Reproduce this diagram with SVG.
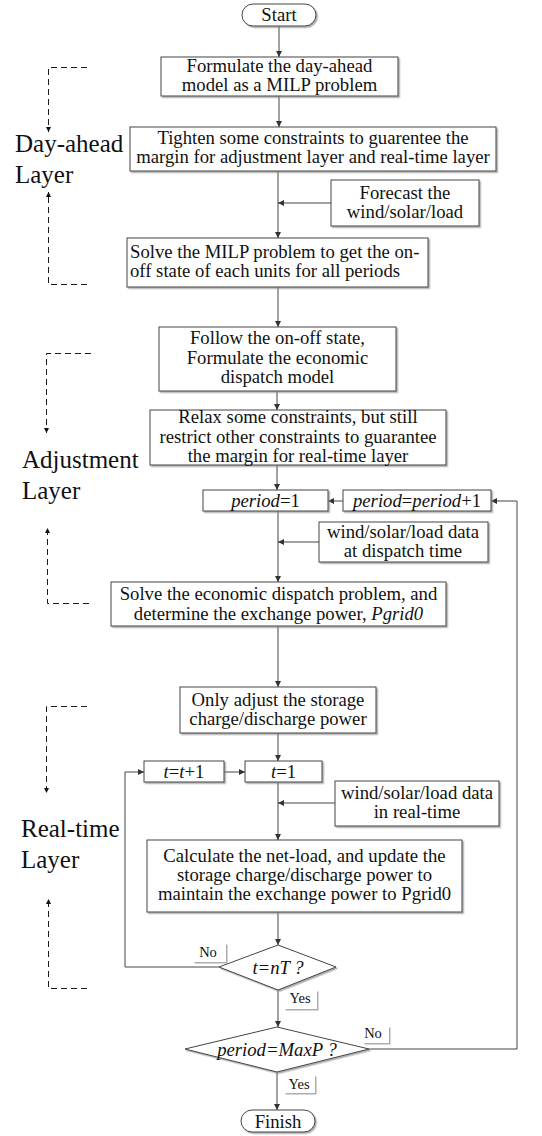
<svg xmlns="http://www.w3.org/2000/svg" width="542" height="1136" viewBox="0 0 542 1136">
  <defs>
    <filter id="shadow" x="-5%" y="-10%" width="115%" height="140%">
      <feDropShadow dx="1.5" dy="1.5" stdDeviation="0.7" flood-color="#8a8a8a" flood-opacity="0.7"/>
    </filter>
    <marker id="arr" markerUnits="userSpaceOnUse" markerWidth="8" markerHeight="8" refX="6" refY="3" orient="auto">
      <path d="M0,0 L6,3 L0,6 z" fill="#333"/>
    </marker>
    <marker id="arrDash" markerUnits="userSpaceOnUse" markerWidth="8" markerHeight="8" refX="5" refY="2.5" orient="auto">
      <path d="M0,0 L5,2.5 L0,5 z" fill="#111"/>
    </marker>
    <style>
      .box { fill: #fff; stroke: #444; stroke-width: 1; filter: url(#shadow); }
      .tag { fill: #fff; filter: url(#shadow); }
      .t { font-family: "Liberation Serif", "Times New Roman", serif; font-size: 18.7px; fill: #111; text-anchor: middle; }
      .ts { font-family: "Liberation Serif", "Times New Roman", serif; font-size: 14.5px; fill: #111; text-anchor: middle; }
      .layer { font-family: "Liberation Serif", "Times New Roman", serif; font-size: 25px; fill: #111; }
      .i { font-style: italic; }
      .c { fill: none; stroke: #444; stroke-width: 1; marker-end: url(#arr); }
      .d { fill: none; stroke: #1a1a1a; stroke-width: 1; stroke-dasharray: 6 4; marker-end: url(#arrDash); }
    </style>
  </defs>

  <!-- layer labels with dashed brackets -->
  <g id="layer-dayahead">
    <text class="layer" x="15" y="152">Day-ahead</text>
    <text class="layer" x="15" y="183">Layer</text>
    <path class="d" d="M87,67.5 H48.5 V132"/>
    <path class="d" d="M87,284.5 H48.5 V192"/>
  </g>
  <g id="layer-adjustment">
    <text class="layer" x="22" y="468">Adjustment</text>
    <text class="layer" x="22" y="499">Layer</text>
    <path class="d" d="M91,353.5 H46.5 V433"/>
    <path class="d" d="M89,603.5 H47.5 V528"/>
  </g>
  <g id="layer-realtime">
    <text class="layer" x="21" y="837">Real-time</text>
    <text class="layer" x="21" y="868">Layer</text>
    <path class="d" d="M87,706.5 H46.5 V793"/>
    <path class="d" d="M87,988.5 H48.5 V899"/>
  </g>

  <!-- connectors -->
  <g id="connectors">
    <path class="c" d="M279,26 V57"/>
    <path class="c" d="M279,96 V127"/>
    <path class="c" d="M278,171 V238"/>
    <path class="c" d="M331,203 H278"/>
    <path class="c" d="M278,287 V327"/>
    <path class="c" d="M277,391 V410"/>
    <path class="c" d="M277,465 V490"/>
    <path class="c" d="M343,501 H328"/>
    <path class="c" d="M369,1049 H517 V501 H491"/>
    <path class="c" d="M278,511 V582"/>
    <path class="c" d="M319,542 H278"/>
    <path class="c" d="M278,626 V687"/>
    <path class="c" d="M278,733 V761"/>
    <path class="c" d="M224,772 H245"/>
    <path class="c" d="M219,967 H125 V772 H144"/>
    <path class="c" d="M278,782 V840"/>
    <path class="c" d="M335,803 H278"/>
    <path class="c" d="M278,912 V945"/>
    <path class="c" d="M278,990 V1027"/>
    <path class="c" d="M277,1072 V1110"/>
  </g>

  <g id="start">
    <rect class="box" x="242" y="4" width="74" height="22" rx="11"/>
    <text class="t" x="279" y="21">Start</text>
  </g>

  <g id="formulate-dayahead">
    <rect class="box" x="161" y="57" width="237" height="39"/>
    <text class="t" x="279.5" y="72">Formulate the day-ahead</text>
    <text class="t" x="279.5" y="91">model as a MILP problem</text>
  </g>

  <g id="tighten">
    <rect class="box" x="130" y="127" width="366" height="44"/>
    <text class="t" x="313" y="144">Tighten some constraints to guarentee the</text>
    <text class="t" x="313" y="163">margin for adjustment layer and real-time layer</text>
  </g>

  <g id="forecast">
    <rect class="box" x="331" y="180" width="148" height="46"/>
    <text class="t" x="405" y="199">Forecast the</text>
    <text class="t" x="405" y="218">wind/solar/load</text>
  </g>

  <g id="solve-milp">
    <rect class="box" x="127" y="238" width="301" height="49"/>
    <text class="t" x="130" y="258" style="text-anchor:start">Solve the MILP problem to get the on-</text>
    <text class="t" x="130" y="277" style="text-anchor:start">off state of each units for all periods</text>
  </g>

  <g id="follow-onoff">
    <rect class="box" x="159" y="327" width="237" height="64"/>
    <text class="t" x="277.5" y="344">Follow the on-off state,</text>
    <text class="t" x="277.5" y="364">Formulate the economic</text>
    <text class="t" x="277.5" y="383">dispatch model</text>
  </g>

  <g id="relax">
    <rect class="box" x="150" y="410" width="296" height="55"/>
    <text class="t" x="298" y="423">Relax some constraints, but still</text>
    <text class="t" x="298" y="443">restrict other constraints to guarantee</text>
    <text class="t" x="298" y="462">the margin for real-time layer</text>
  </g>

  <g id="period-init">
    <rect class="box" x="203" y="490" width="125" height="21"/>
    <text class="t" x="265.5" y="507"><tspan class="i">period</tspan>=1</text>
  </g>

  <g id="period-next">
    <rect class="box" x="343" y="490" width="148" height="21"/>
    <text class="t" x="417" y="507"><tspan class="i">period</tspan>=<tspan class="i">period</tspan>+1</text>
  </g>

  <g id="dispatch-data">
    <rect class="box" x="319" y="522" width="169" height="40"/>
    <text class="t" x="403" y="538">wind/solar/load data</text>
    <text class="t" x="403" y="557">at dispatch time</text>
  </g>

  <g id="solve-dispatch">
    <rect class="box" x="111" y="582" width="335" height="44"/>
    <text class="t" x="278.5" y="600">Solve the economic dispatch problem, and</text>
    <text class="t" x="278.5" y="620">determine the exchange power, <tspan class="i">Pgrid0</tspan></text>
  </g>

  <g id="adjust-storage">
    <rect class="box" x="180" y="687" width="196" height="46"/>
    <text class="t" x="278" y="706">Only adjust the storage</text>
    <text class="t" x="278" y="725">charge/discharge power</text>
  </g>

  <g id="t-init">
    <rect class="box" x="245" y="761" width="77" height="21"/>
    <text class="t" x="283.5" y="778"><tspan class="i">t</tspan>=1</text>
  </g>

  <g id="t-next">
    <rect class="box" x="144" y="761" width="80" height="21"/>
    <text class="t" x="184" y="778"><tspan class="i">t</tspan>=<tspan class="i">t</tspan>+1</text>
  </g>

  <g id="realtime-data">
    <rect class="box" x="335" y="781" width="164" height="45"/>
    <text class="t" x="417" y="799">wind/solar/load data</text>
    <text class="t" x="417" y="818">in real-time</text>
  </g>

  <g id="calculate">
    <rect class="box" x="147" y="840" width="315" height="72"/>
    <text class="t" x="304.5" y="862">Calculate the net-load, and update the</text>
    <text class="t" x="304.5" y="881">storage charge/discharge power to</text>
    <text class="t" x="304.5" y="900">maintain the exchange power to Pgrid0</text>
  </g>

  <g id="check-t">
    <polygon class="box" points="278,945 336,967 278,990 219,967"/>
    <text class="t i" x="278" y="974">t=nT ?</text>
    <rect class="tag" x="193" y="943" width="33" height="19"/>
    <text class="ts" x="208" y="957">No</text>
    <rect class="tag" x="284" y="990" width="33" height="19"/>
    <text class="ts" x="300" y="1003">Yes</text>
  </g>

  <g id="check-period">
    <polygon class="box" points="277,1027 369,1049 277,1072 185,1049"/>
    <text class="t i" x="277" y="1056">period=MaxP ?</text>
    <rect class="tag" x="363" y="1026" width="26" height="17"/>
    <text class="ts" x="373" y="1038">No</text>
    <rect class="tag" x="284" y="1075" width="31" height="18"/>
    <text class="ts" x="299" y="1089">Yes</text>
  </g>

  <g id="finish">
    <rect class="box" x="241" y="1110" width="74" height="22" rx="11"/>
    <text class="t" x="278" y="1128">Finish</text>
  </g>
</svg>
